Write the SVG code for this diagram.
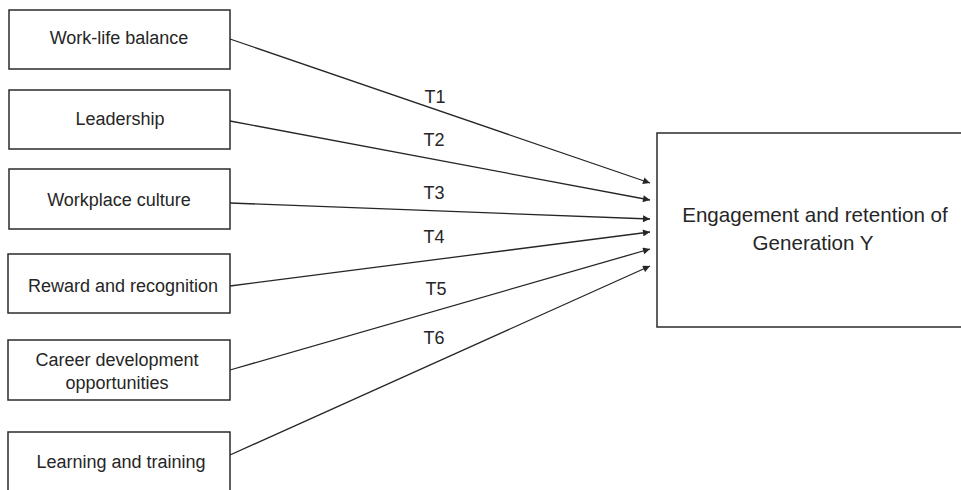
<svg xmlns="http://www.w3.org/2000/svg" width="961" height="490" viewBox="0 0 961 490">
  <defs>
    <style>
      .box { fill: #ffffff; stroke: #2b2b2b; stroke-width: 1.5; }
      .lbl { font-family: "Liberation Sans", Arial, sans-serif; font-size: 18px; fill: #262626; text-anchor: middle; }
      .big { font-size: 20.6px; }
      .link { stroke: #262626; stroke-width: 1.3; fill: none; marker-end: url(#arrow); }
    </style>
    <marker id="arrow" viewBox="0 0 10 10" refX="10" refY="5" markerWidth="9" markerHeight="7" markerUnits="userSpaceOnUse" orient="auto">
      <path d="M0,0 L10,5 L0,10 Z" fill="#262626"/>
    </marker>
  </defs>

  <rect width="961" height="490" fill="#ffffff"/>

  <!-- factor boxes -->
  <g id="work-life-balance">
    <rect class="box" x="9" y="10" width="221" height="59"/>
    <text class="lbl" x="119" y="44">Work-life balance</text>
  </g>
  <g id="leadership">
    <rect class="box" x="9" y="90" width="221" height="59"/>
    <text class="lbl" x="120" y="125">Leadership</text>
  </g>
  <g id="workplace-culture">
    <rect class="box" x="9" y="169" width="221" height="60"/>
    <text class="lbl" x="119" y="206">Workplace culture</text>
  </g>
  <g id="reward-recognition">
    <rect class="box" x="8" y="254" width="222" height="59"/>
    <text class="lbl" x="123" y="292">Reward and recognition</text>
  </g>
  <g id="career-development">
    <rect class="box" x="8" y="340" width="222" height="60"/>
    <text class="lbl" x="117" y="366">Career development</text>
    <text class="lbl" x="117" y="389">opportunities</text>
  </g>
  <g id="learning-training">
    <rect class="box" x="8" y="432" width="222" height="80"/>
    <text class="lbl" x="121" y="468">Learning and training</text>
  </g>

  <!-- outcome box -->
  <g id="engagement-retention">
    <rect class="box" x="657" y="133" width="330" height="194"/>
    <text class="lbl big" x="815" y="222">Engagement and retention of</text>
    <text class="lbl big" x="813" y="250">Generation Y</text>
  </g>

  <!-- connectors -->
  <g id="connectors">
    <line class="link" x1="230" y1="39" x2="650" y2="183"/>
    <line class="link" x1="230" y1="121" x2="650" y2="200"/>
    <line class="link" x1="230" y1="203" x2="650" y2="219"/>
    <line class="link" x1="230" y1="286" x2="650" y2="232"/>
    <line class="link" x1="230" y1="370" x2="650" y2="249"/>
    <line class="link" x1="230" y1="455" x2="650" y2="266"/>
    <text class="lbl" x="435" y="103">T1</text>
    <text class="lbl" x="434" y="146">T2</text>
    <text class="lbl" x="434" y="199">T3</text>
    <text class="lbl" x="434" y="243">T4</text>
    <text class="lbl" x="436" y="295">T5</text>
    <text class="lbl" x="434" y="344">T6</text>
  </g>
</svg>
